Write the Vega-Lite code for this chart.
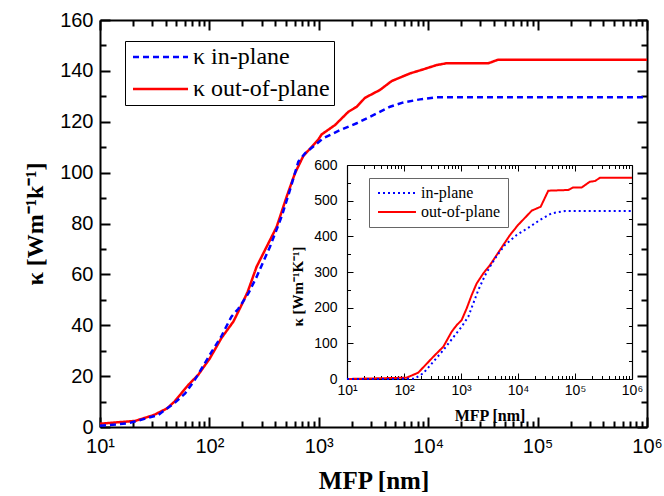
{
  "$schema": "https://vega.github.io/schema/vega-lite/v6.json",
  "autosize": {"type": "none"},
  "padding": {"left": 100, "top": 20, "right": 17, "bottom": 69},
  "width": 547,
  "height": 407,
  "background": "white",
  "datasets": {
    "main": [
      {"mfp": 10, "k": 1.3, "series": "κ out-of-plane"},
      {"mfp": 15, "k": 1.9, "series": "κ out-of-plane"},
      {"mfp": 21, "k": 2.4, "series": "κ out-of-plane"},
      {"mfp": 31, "k": 4.7, "series": "κ out-of-plane"},
      {"mfp": 41, "k": 7.3, "series": "κ out-of-plane"},
      {"mfp": 48, "k": 10, "series": "κ out-of-plane"},
      {"mfp": 64, "k": 16.5, "series": "κ out-of-plane"},
      {"mfp": 79, "k": 20.5, "series": "κ out-of-plane"},
      {"mfp": 101, "k": 27, "series": "κ out-of-plane"},
      {"mfp": 129, "k": 35, "series": "κ out-of-plane"},
      {"mfp": 166, "k": 41.5, "series": "κ out-of-plane"},
      {"mfp": 197, "k": 48, "series": "κ out-of-plane"},
      {"mfp": 224, "k": 53.2, "series": "κ out-of-plane"},
      {"mfp": 270, "k": 63, "series": "κ out-of-plane"},
      {"mfp": 412, "k": 78.7, "series": "κ out-of-plane"},
      {"mfp": 508, "k": 90.5, "series": "κ out-of-plane"},
      {"mfp": 605, "k": 99.7, "series": "κ out-of-plane"},
      {"mfp": 721, "k": 106.5, "series": "κ out-of-plane"},
      {"mfp": 990, "k": 113, "series": "κ out-of-plane"},
      {"mfp": 1060, "k": 115, "series": "κ out-of-plane"},
      {"mfp": 1406, "k": 118.7, "series": "κ out-of-plane"},
      {"mfp": 1862, "k": 123.9, "series": "κ out-of-plane"},
      {"mfp": 2220, "k": 125.9, "series": "κ out-of-plane"},
      {"mfp": 2643, "k": 129.4, "series": "κ out-of-plane"},
      {"mfp": 3622, "k": 132.5, "series": "κ out-of-plane"},
      {"mfp": 4634, "k": 136, "series": "κ out-of-plane"},
      {"mfp": 6820, "k": 139, "series": "κ out-of-plane"},
      {"mfp": 9020, "k": 140.6, "series": "κ out-of-plane"},
      {"mfp": 11960, "k": 142.3, "series": "κ out-of-plane"},
      {"mfp": 14760, "k": 143, "series": "κ out-of-plane"},
      {"mfp": 35500, "k": 143, "series": "κ out-of-plane"},
      {"mfp": 43600, "k": 144.4, "series": "κ out-of-plane"},
      {"mfp": 1000000, "k": 144.4, "series": "κ out-of-plane"},
      {"mfp": 10, "k": 0.5, "series": "κ in-plane"},
      {"mfp": 18, "k": 1.4, "series": "κ in-plane"},
      {"mfp": 34, "k": 4.7, "series": "κ in-plane"},
      {"mfp": 48.5, "k": 9.6, "series": "κ in-plane"},
      {"mfp": 60, "k": 13.2, "series": "κ in-plane"},
      {"mfp": 74, "k": 18.7, "series": "κ in-plane"},
      {"mfp": 105, "k": 29.6, "series": "κ in-plane"},
      {"mfp": 128, "k": 35.5, "series": "κ in-plane"},
      {"mfp": 159, "k": 43.4, "series": "κ in-plane"},
      {"mfp": 184, "k": 46.5, "series": "κ in-plane"},
      {"mfp": 227, "k": 52.5, "series": "κ in-plane"},
      {"mfp": 270, "k": 59, "series": "κ in-plane"},
      {"mfp": 358, "k": 70.9, "series": "κ in-plane"},
      {"mfp": 457, "k": 82.7, "series": "κ in-plane"},
      {"mfp": 545, "k": 93.2, "series": "κ in-plane"},
      {"mfp": 650, "k": 104.3, "series": "κ in-plane"},
      {"mfp": 748, "k": 107.6, "series": "κ in-plane"},
      {"mfp": 1099, "k": 113.5, "series": "κ in-plane"},
      {"mfp": 1563, "k": 116.7, "series": "κ in-plane"},
      {"mfp": 2220, "k": 119.4, "series": "κ in-plane"},
      {"mfp": 3150, "k": 122.6, "series": "κ in-plane"},
      {"mfp": 4477, "k": 125.9, "series": "κ in-plane"},
      {"mfp": 5930, "k": 127.6, "series": "κ in-plane"},
      {"mfp": 8420, "k": 128.8, "series": "κ in-plane"},
      {"mfp": 11960, "k": 129.6, "series": "κ in-plane"},
      {"mfp": 1000000, "k": 129.6, "series": "κ in-plane"}
    ],
    "inset": [
      {"mfp": 10, "k": 0, "series": "out-of-plane"},
      {"mfp": 111, "k": 3.7, "series": "out-of-plane"},
      {"mfp": 178, "k": 17.8, "series": "out-of-plane"},
      {"mfp": 327, "k": 62.5, "series": "out-of-plane"},
      {"mfp": 490, "k": 90.6, "series": "out-of-plane"},
      {"mfp": 686, "k": 132.6, "series": "out-of-plane"},
      {"mfp": 840, "k": 151, "series": "out-of-plane"},
      {"mfp": 1025, "k": 165, "series": "out-of-plane"},
      {"mfp": 1258, "k": 198, "series": "out-of-plane"},
      {"mfp": 1541, "k": 235.5, "series": "out-of-plane"},
      {"mfp": 1885, "k": 268, "series": "out-of-plane"},
      {"mfp": 2460, "k": 296, "series": "out-of-plane"},
      {"mfp": 3230, "k": 319.6, "series": "out-of-plane"},
      {"mfp": 4230, "k": 347.6, "series": "out-of-plane"},
      {"mfp": 5520, "k": 375.7, "series": "out-of-plane"},
      {"mfp": 7240, "k": 403.7, "series": "out-of-plane"},
      {"mfp": 10000, "k": 431.7, "series": "out-of-plane"},
      {"mfp": 14200, "k": 457, "series": "out-of-plane"},
      {"mfp": 17400, "k": 472, "series": "out-of-plane"},
      {"mfp": 25000, "k": 483, "series": "out-of-plane"},
      {"mfp": 34000, "k": 528, "series": "out-of-plane"},
      {"mfp": 76000, "k": 530, "series": "out-of-plane"},
      {"mfp": 93000, "k": 537, "series": "out-of-plane"},
      {"mfp": 131000, "k": 537, "series": "out-of-plane"},
      {"mfp": 182000, "k": 553, "series": "out-of-plane"},
      {"mfp": 223000, "k": 555, "series": "out-of-plane"},
      {"mfp": 274000, "k": 564, "series": "out-of-plane"},
      {"mfp": 1000000, "k": 564, "series": "out-of-plane"},
      {"mfp": 10, "k": 0, "series": "in-plane"},
      {"mfp": 150, "k": 0.5, "series": "in-plane"},
      {"mfp": 218, "k": 16, "series": "in-plane"},
      {"mfp": 327, "k": 48.5, "series": "in-plane"},
      {"mfp": 490, "k": 81, "series": "in-plane"},
      {"mfp": 785, "k": 123, "series": "in-plane"},
      {"mfp": 1028, "k": 146.6, "series": "in-plane"},
      {"mfp": 1342, "k": 174.7, "series": "in-plane"},
      {"mfp": 1644, "k": 212, "series": "in-plane"},
      {"mfp": 2014, "k": 249.5, "series": "in-plane"},
      {"mfp": 2630, "k": 290, "series": "in-plane"},
      {"mfp": 3230, "k": 315, "series": "in-plane"},
      {"mfp": 4230, "k": 345, "series": "in-plane"},
      {"mfp": 5890, "k": 375.7, "series": "in-plane"},
      {"mfp": 9480, "k": 403.7, "series": "in-plane"},
      {"mfp": 16200, "k": 427, "series": "in-plane"},
      {"mfp": 24300, "k": 446, "series": "in-plane"},
      {"mfp": 39000, "k": 464.5, "series": "in-plane"},
      {"mfp": 66800, "k": 471, "series": "in-plane"},
      {"mfp": 1000000, "k": 471, "series": "in-plane"}
    ]
  },
  "layer": [
    {
      "data": {"name": "main"},
      "mark": {"type": "line", "strokeWidth": 2.5},
      "encoding": {
        "x": {"field": "mfp", "type": "quantitative",
          "scale": {"type": "log", "domain": [10, 1000000], "nice": false},
          "axis": {"orient": "bottom", "values": [10, 100, 1000, 10000, 100000, 1000000],
            "labelExpr": "['','10¹','10²','10³','10⁴','10⁵','10⁶'][round(log(datum.value)/LN10)]",
            "tickSize": -10, "tickWidth": 2, "domainWidth": 2, "labelFontSize": 20, "labelPadding": 19,
            "title": "MFP [nm]", "titleFontSize": 25, "titleFontWeight": "bold", "titlePadding": 12}},
        "y": {"field": "k", "type": "quantitative",
          "scale": {"domain": [0, 160], "nice": false, "zero": false},
          "axis": {"orient": "left", "values": [0, 20, 40, 60, 80, 100, 120, 140, 160],
            "tickSize": -10, "tickWidth": 2, "domainWidth": 2, "labelFontSize": 20, "labelPadding": 17,
            "title": "κ [Wm⁻¹k⁻¹]", "titleFontSize": 24, "titleFontWeight": "bold", "titlePadding": 12}},
        "color": {"field": "series", "type": "nominal",
          "scale": {"domain": ["κ in-plane", "κ out-of-plane"], "range": ["#0000ff", "#ff0000"]},
          "legend": {"title": null, "orient": "none", "legendX": 25, "legendY": 21, "strokeColor": "black", "fillColor": "white", "padding": 4,
            "labelFont": "Liberation Serif", "labelFontSize": 24, "symbolType": "M-1,0H5.875", "symbolSize": 256, "symbolStrokeWidth": 2.5, "labelOffset": 40, "rowPadding": 8}},
        "strokeDash": {"field": "series", "type": "nominal",
          "scale": {"domain": ["κ in-plane", "κ out-of-plane"], "range": [[6, 4], [1, 0]]},
          "legend": {"title": null, "orient": "none", "legendX": 25, "legendY": 21, "strokeColor": "black", "fillColor": "white", "padding": 4,
            "labelFont": "Liberation Serif", "labelFontSize": 24, "symbolType": "M-1,0H5.875", "symbolSize": 256, "symbolStrokeWidth": 2.5, "labelOffset": 40, "rowPadding": 8}}
      }
    },
    {
      "data": {"name": "main"},
      "mark": {"type": "point", "opacity": 0},
      "encoding": {
        "x": {"field": "mfp", "type": "quantitative",
          "scale": {"type": "log", "domain": [10, 1000000], "nice": false},
          "axis": {"orient": "top", "values": [10, 100, 1000, 10000, 100000, 1000000], "labels": false, "title": null,
            "tickSize": -10, "tickWidth": 2, "domainWidth": 2}},
        "y": {"field": "k", "type": "quantitative",
          "scale": {"domain": [0, 160], "nice": false, "zero": false},
          "axis": {"orient": "right", "values": [0, 20, 40, 60, 80, 100, 120, 140, 160], "labels": false, "title": null,
            "tickSize": -10, "tickWidth": 2, "domainWidth": 2}}
      }
    },
    {
      "data": {"name": "main"},
      "mark": {"type": "point", "opacity": 0},
      "encoding": {
        "x": {"field": "mfp", "type": "quantitative",
          "scale": {"type": "log", "domain": [10, 1000000], "nice": false},
          "axis": {"orient": "bottom", "values": [20,30,40,50,60,70,80,90,200,300,400,500,600,700,800,900,2000,3000,4000,5000,6000,7000,8000,9000,20000,30000,40000,50000,60000,70000,80000,90000,200000,300000,400000,500000,600000,700000,800000,900000],
            "labels": false, "title": null, "domain": false, "tickSize": -6, "tickWidth": 2}},
        "y": {"field": "k", "type": "quantitative",
          "scale": {"domain": [0, 160], "nice": false, "zero": false},
          "axis": {"orient": "left", "values": [10, 30, 50, 70, 90, 110, 130, 150], "labels": false, "title": null, "domain": false,
            "tickSize": -6, "tickWidth": 2}}
      }
    },
    {
      "data": {"name": "main"},
      "mark": {"type": "point", "opacity": 0},
      "encoding": {
        "x": {"field": "mfp", "type": "quantitative",
          "scale": {"type": "log", "domain": [10, 1000000], "nice": false},
          "axis": {"orient": "top", "values": [20,30,40,50,60,70,80,90,200,300,400,500,600,700,800,900,2000,3000,4000,5000,6000,7000,8000,9000,20000,30000,40000,50000,60000,70000,80000,90000,200000,300000,400000,500000,600000,700000,800000,900000],
            "labels": false, "title": null, "domain": false, "tickSize": -6, "tickWidth": 2}},
        "y": {"field": "k", "type": "quantitative",
          "scale": {"domain": [0, 160], "nice": false, "zero": false},
          "axis": {"orient": "right", "values": [10, 30, 50, 70, 90, 110, 130, 150], "labels": false, "title": null, "domain": false,
            "tickSize": -6, "tickWidth": 2}}
      }
    },
    {
      "data": {"name": "inset"},
      "mark": {"type": "line", "strokeWidth": 2},
      "encoding": {
        "x": {"field": "mfp", "type": "quantitative",
          "scale": {"type": "log", "domain": [10, 1000000], "nice": false, "range": [247, 532]},
          "axis": {"orient": "bottom", "offset": -48, "values": [10, 100, 1000, 10000, 100000, 1000000],
            "labelExpr": "['','10¹','10²','10³','10⁴','10⁵','10⁶'][round(log(datum.value)/LN10)]",
            "tickSize": -6, "tickWidth": 1, "domainWidth": 1.2, "labelFontSize": 14, "labelPadding": 10,
            "title": "MFP [nm]", "titleFontSize": 16, "titleFontWeight": "bold", "titlePadding": 10}},
        "y": {"field": "k", "type": "quantitative",
          "scale": {"domain": [0, 600], "nice": false, "zero": false, "range": [359, 145]},
          "axis": {"orient": "left", "offset": -247, "values": [0, 100, 200, 300, 400, 500, 600],
            "tickSize": -6, "tickWidth": 1, "domainWidth": 1.2, "labelFontSize": 14, "labelPadding": 16,
            "title": "κ [Wm⁻¹K⁻¹]", "titleFontSize": 15, "titleFontWeight": "bold", "titlePadding": 8, "titleY": 266}},
        "color": {"field": "series", "type": "nominal",
          "scale": {"domain": ["in-plane", "out-of-plane"], "range": ["#0000ff", "#ff0000"]},
          "legend": {"title": null, "orient": "none", "legendX": 269, "legendY": 158, "strokeColor": "#666666", "fillColor": "white", "padding": 7,
            "labelFont": "Liberation Serif", "labelFontSize": 16, "symbolType": "M-1,0H5.33", "symbolSize": 144, "symbolStrokeWidth": 2, "labelOffset": 29, "rowPadding": 3}},
        "strokeDash": {"field": "series", "type": "nominal",
          "scale": {"domain": ["in-plane", "out-of-plane"], "range": [[2, 3], [1, 0]]},
          "legend": {"title": null, "orient": "none", "legendX": 269, "legendY": 158, "strokeColor": "#666666", "fillColor": "white", "padding": 7,
            "labelFont": "Liberation Serif", "labelFontSize": 16, "symbolType": "M-1,0H5.33", "symbolSize": 144, "symbolStrokeWidth": 2, "labelOffset": 29, "rowPadding": 3}}
      }
    },
    {
      "data": {"name": "inset"},
      "mark": {"type": "point", "opacity": 0},
      "encoding": {
        "x": {"field": "mfp", "type": "quantitative",
          "scale": {"type": "log", "domain": [10, 1000000], "nice": false, "range": [247, 532]},
          "axis": {"orient": "top", "offset": -145, "values": [10, 100, 1000, 10000, 100000, 1000000], "labels": false, "title": null,
            "tickSize": -6, "tickWidth": 1, "domainWidth": 1.2}},
        "y": {"field": "k", "type": "quantitative",
          "scale": {"domain": [0, 600], "nice": false, "zero": false, "range": [359, 145]},
          "axis": {"orient": "right", "offset": -15, "values": [0, 100, 200, 300, 400, 500, 600], "labels": false, "title": null,
            "tickSize": -6, "tickWidth": 1, "domainWidth": 1.2}}
      }
    },
    {
      "data": {"name": "inset"},
      "mark": {"type": "point", "opacity": 0},
      "encoding": {
        "x": {"field": "mfp", "type": "quantitative",
          "scale": {"type": "log", "domain": [10, 1000000], "nice": false, "range": [247, 532]},
          "axis": {"orient": "bottom", "offset": -48, "values": [20,30,40,50,60,70,80,90,200,300,400,500,600,700,800,900,2000,3000,4000,5000,6000,7000,8000,9000,20000,30000,40000,50000,60000,70000,80000,90000,200000,300000,400000,500000,600000,700000,800000,900000],
            "labels": false, "title": null, "domain": false, "tickSize": -3.5, "tickWidth": 1}},
        "y": {"field": "k", "type": "quantitative",
          "scale": {"domain": [0, 600], "nice": false, "zero": false, "range": [359, 145]},
          "axis": {"orient": "left", "offset": -247, "values": [50, 150, 250, 350, 450, 550], "labels": false, "title": null, "domain": false,
            "tickSize": -3.5, "tickWidth": 1}}
      }
    },
    {
      "data": {"name": "inset"},
      "mark": {"type": "point", "opacity": 0},
      "encoding": {
        "x": {"field": "mfp", "type": "quantitative",
          "scale": {"type": "log", "domain": [10, 1000000], "nice": false, "range": [247, 532]},
          "axis": {"orient": "top", "offset": -145, "values": [20,30,40,50,60,70,80,90,200,300,400,500,600,700,800,900,2000,3000,4000,5000,6000,7000,8000,9000,20000,30000,40000,50000,60000,70000,80000,90000,200000,300000,400000,500000,600000,700000,800000,900000],
            "labels": false, "title": null, "domain": false, "tickSize": -3.5, "tickWidth": 1}},
        "y": {"field": "k", "type": "quantitative",
          "scale": {"domain": [0, 600], "nice": false, "zero": false, "range": [359, 145]},
          "axis": {"orient": "right", "offset": -15, "values": [50, 150, 250, 350, 450, 550], "labels": false, "title": null, "domain": false,
            "tickSize": -3.5, "tickWidth": 1}}
      }
    }
  ],
  "resolve": {
    "scale": {"x": "independent", "y": "independent", "color": "independent", "strokeDash": "independent"},
    "axis": {"x": "independent", "y": "independent"},
    "legend": {"color": "independent", "strokeDash": "independent"}
  },
  "config": {
    "view": {"stroke": null},
    "axis": {"grid": false, "domainColor": "black", "tickColor": "black", "labelColor": "black", "titleColor": "black",
      "labelFont": "Liberation Sans", "titleFont": "Liberation Serif", "labelFlush": false, "labelOverlap": false},
    "legend": {"labelColor": "black"}
  }
}
